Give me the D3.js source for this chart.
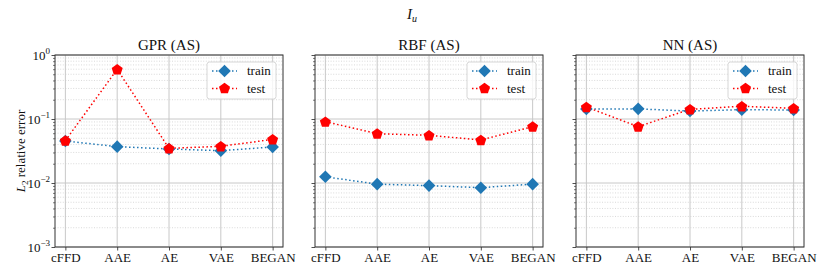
<!DOCTYPE html>
<html>
<head>
<meta charset="utf-8">
<script src="https://cdn.jsdelivr.net/npm/d3@7"></script>
</head>
<body style="margin:0">
<svg id="chart" width="830" height="277"></svg>
<script>
const categories = ['cFFD', 'AAE', 'AE', 'VAE', 'BEGAN'];
const panelTitles = ['GPR (AS)', 'RBF (AS)', 'NN (AS)'];

// values
const gprTrain = [0.0453, 0.037, 0.034, 0.032, 0.0365];
const gprTest  = [0.046, 0.597, 0.0348, 0.0374, 0.048];
const rbfTrain = [0.0125, 0.0096, 0.0091, 0.00845, 0.0096];
const rbfTest  = [0.0908, 0.059, 0.0556, 0.047, 0.0759];
const nnTrain  = [0.143, 0.144, 0.133, 0.14, 0.138];
const nnTest   = [0.154, 0.076, 0.1416, 0.158, 0.147];

const trainSeries = [gprTrain, rbfTrain, nnTrain];
const testSeries = [gprTest, rbfTest, nnTest];

const majorTicks = [1e-3, 1e-2, 1e-1, 1];
const tickExp = ['\u22123', '\u22122', '\u22121', '0'];

const FONT = 'Liberation Serif';
const svg = d3.select('#chart');
const panelLeft = [55, 315, 576];
const panelW = 228;
const plotTop = 55, plotBottom = 247;

const blue = '#1f77b4', red = '#ff0000';

// minor tick values 2..9 x 10^k
const minorTicks = [];
for (let k = -3; k < 0; k++) {
    for (let m = 2; m <= 9; m++) minorTicks.push(m * Math.pow(10, k));
}

const y = d3.scaleLog().domain([1e-3, 1]).range([plotBottom, plotTop]);

const diamond = s => `M0,${-s}L${s},0L0,${s}L${-s},0Z`;
const pentagon = r => {
    const pts = d3.range(5).map(i => {
        const a = -Math.PI / 2 + i * 2 * Math.PI / 5;
        return [r * Math.cos(a), r * Math.sin(a)];
    });
    return 'M' + pts.map(p => p.join(',')).join('L') + 'Z';
};

function txt(sel, size) {
    return sel.append('text').attr('font-family', FONT).attr('font-size', size).attr('fill', '#111');
}

panelTitles.forEach((title, p) => {
    const x0 = panelLeft[p];
    const x = d3.scaleLinear().domain([-0.2, 4.2]).range([x0, x0 + panelW]);
    const g = svg.append('g');

    // minor grid (dotted)
    g.selectAll('line.minor').data(minorTicks).enter().append('line')
        .attr('x1', x0).attr('x2', x0 + panelW)
        .attr('y1', d => y(d)).attr('y2', d => y(d))
        .attr('stroke', '#d0d0d0').attr('stroke-width', 0.8)
        .attr('stroke-dasharray', '1,1.6');

    // major grid
    g.selectAll('line.major').data(majorTicks).enter().append('line')
        .attr('x1', x0).attr('x2', x0 + panelW)
        .attr('y1', d => y(d)).attr('y2', d => y(d))
        .attr('stroke', '#c8c8c8').attr('stroke-width', 1);

    // vertical grid at categories
    g.selectAll('line.vgrid').data(categories).enter().append('line')
        .attr('x1', (d, i) => x(i)).attr('x2', (d, i) => x(i))
        .attr('y1', plotTop).attr('y2', plotBottom)
        .attr('stroke', '#c8c8c8').attr('stroke-width', 1);

    // axes
    const yAxis = d3.axisLeft(y).tickValues(majorTicks).tickSize(3.5).tickFormat('');
    g.append('g').attr('transform', `translate(${x0},0)`).call(yAxis)
        .call(a => a.select('.domain').remove())
        .selectAll('line').attr('stroke', '#222').attr('stroke-width', 0.8);
    const yMinor = d3.axisLeft(y).tickValues(minorTicks).tickSize(2).tickFormat('');
    g.append('g').attr('transform', `translate(${x0},0)`).call(yMinor)
        .call(a => a.select('.domain').remove())
        .selectAll('line').attr('stroke', '#222').attr('stroke-width', 0.6);

    const xAxis = d3.axisBottom(x).tickValues(d3.range(categories.length)).tickSize(3.5)
        .tickFormat(i => categories[i]);
    const xg = g.append('g').attr('transform', `translate(0,${plotBottom})`).call(xAxis)
        .attr('font-family', FONT).attr('font-size', 13);
    xg.select('.domain').remove();
    xg.selectAll('line').attr('stroke', '#222').attr('stroke-width', 0.8);
    xg.selectAll('text').attr('y', 5.5).attr('dy', '0.75em')
        .attr('font-family', FONT).attr('font-size', 13).attr('fill', '#111');

    if (p === 0) {
        majorTicks.forEach((v, i) => {
            const t = txt(g, 13).attr('x', x0 - 5).attr('y', y(v) + 4.5)
                .attr('text-anchor', 'end');
            t.append('tspan').text('10');
            t.append('tspan').attr('dy', -6).attr('font-size', 9).text(tickExp[i]);
        });
    }

    // frame
    g.append('rect').attr('x', x0).attr('y', plotTop).attr('width', panelW).attr('height', plotBottom - plotTop)
        .attr('fill', 'none').attr('stroke', '#333').attr('stroke-width', 1);

    // title
    txt(g, 15).attr('x', x0 + panelW / 2).attr('y', plotTop - 5)
        .attr('text-anchor', 'middle').text(title);

    // series
    const line = d3.line().x((d, i) => x(i)).y(d => y(d));
    g.append('path').datum(trainSeries[p]).attr('d', line)
        .attr('fill', 'none').attr('stroke', blue).attr('stroke-width', 1.5)
        .attr('stroke-dasharray', '1.5,2.5');
    g.append('path').datum(testSeries[p]).attr('d', line)
        .attr('fill', 'none').attr('stroke', red).attr('stroke-width', 1.5)
        .attr('stroke-dasharray', '1.5,2.5');

    g.selectAll('path.tr').data(trainSeries[p]).enter().append('path')
        .attr('d', diamond(6.3))
        .attr('transform', (d, i) => `translate(${x(i)},${y(d)})`)
        .attr('fill', blue);
    g.selectAll('path.te').data(testSeries[p]).enter().append('path')
        .attr('d', pentagon(5.8))
        .attr('transform', (d, i) => `translate(${x(i)},${y(d) + 0.5})`)
        .attr('fill', red);

    // legend
    const lx = x0 + panelW - 76, ly = plotTop + 7;
    const lg = g.append('g');
    lg.append('rect').attr('x', lx).attr('y', ly).attr('width', 69).attr('height', 37)
        .attr('rx', 2.5).attr('fill', 'rgba(255,255,255,0.8)')
        .attr('stroke', '#d6d6d6').attr('stroke-width', 1);
    [['train', blue, diamond(6.3)], ['test', red, pentagon(5.8)]].forEach((e, i) => {
        const yy = ly + 9 + i * 17.5;
        lg.append('line').attr('x1', lx + 5).attr('x2', lx + 30).attr('y1', yy).attr('y2', yy)
            .attr('stroke', e[1]).attr('stroke-width', 1.5).attr('stroke-dasharray', '1.5,2.5');
        lg.append('path').attr('d', e[2]).attr('transform', `translate(${lx + 17.5},${yy})`)
            .attr('fill', e[1]);
        txt(lg, 13).attr('x', lx + 40).attr('y', yy + 4).text(e[0]);
    });
});

// y label
const yl = txt(svg, 13)
    .attr('transform', `translate(25,${(plotTop + plotBottom) / 2}) rotate(-90)`)
    .attr('text-anchor', 'middle');
yl.append('tspan').attr('font-style', 'italic').text('L');
yl.append('tspan').attr('dy', 3).attr('font-size', 9).text('2');
yl.append('tspan').attr('dy', -3).text(' relative error');

// suptitle
const st = txt(svg, 15).attr('x', 412).attr('y', 19).attr('text-anchor', 'middle');
st.append('tspan').attr('font-style', 'italic').text('I');
st.append('tspan').attr('dy', 3).attr('font-size', 10).attr('font-style', 'italic').text('u');
</script>
</body>
</html>
